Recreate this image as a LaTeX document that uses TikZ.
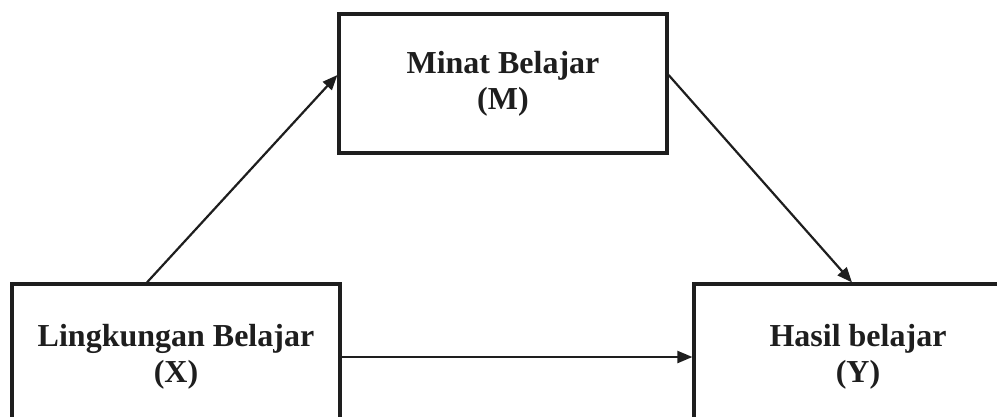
\documentclass[tikz,border=0pt]{standalone}
\usepackage{fontspec}
\setmainfont{Liberation Serif}
\usetikzlibrary{arrows.meta}
\definecolor{ink}{HTML}{1E1E1E}
\tikzset{
  varbox/.style={draw=ink, line width=3.2pt, minimum width=328pt, text=ink,
    align=center, inner sep=0pt,
    font=\fontsize{32}{36}\selectfont\bfseries},
  link/.style={draw=ink, line width=2.2pt, -{Triangle[length=15pt,width=12pt]}}
}
\begin{document}
\begin{tikzpicture}[x=1pt,y=-1pt]
\useasboundingbox (0,0) rectangle (997,416);
\clip (0,0) rectangle (997,416);
\node[varbox, minimum height=139pt] (M) at (503,83.5) {Minat Belajar\\(M)};
\node[varbox, minimum height=146pt] (X) at (176,357) {Lingkungan Belajar\\(X)};
\node[varbox, minimum height=146pt] (Y) at (858,357) {Hasil belajar\\(Y)};
\draw[link] ([xshift=-29pt]X.north) -- ([yshift=8.5pt]M.west);
\draw[link] ([yshift=8.5pt]M.east) -- ([xshift=-6pt]Y.north);
\draw[link] (X.east) -- (Y.west);
\end{tikzpicture}
\end{document}
